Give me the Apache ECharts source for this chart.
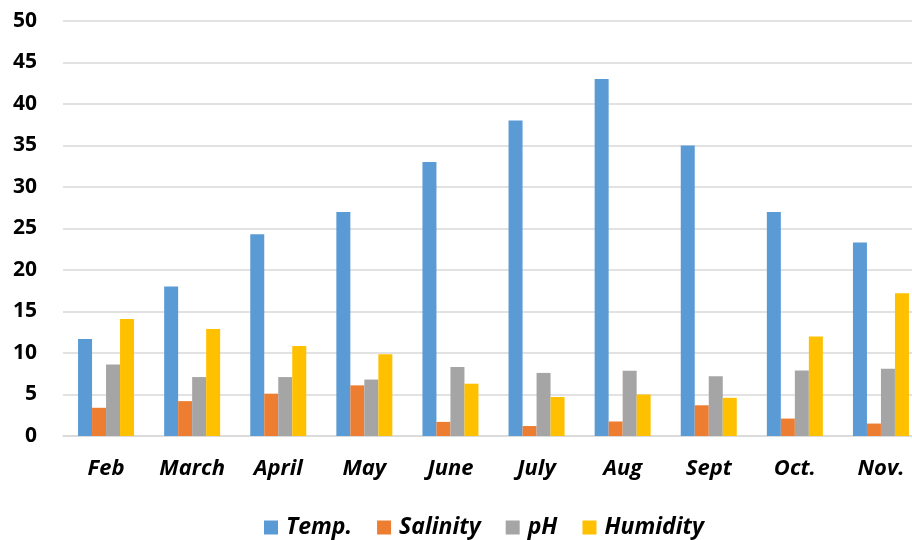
<!DOCTYPE html>
<html>
<head>
<meta charset="utf-8">
<script src="https://cdn.jsdelivr.net/npm/echarts@6/dist/echarts.min.js"></script>
<style>html,body{margin:0;padding:0;background:#fff}#c{width:912px;height:540px}</style>
</head>
<body>
<div id="c"></div>
<script>
var categories = ['Feb', 'March', 'April', 'May', 'June', 'July', 'Aug', 'Sept', 'Oct.', 'Nov.'];
var temp = [11.7, 18.0, 24.3, 27.0, 33.0, 38.0, 43.0, 35.0, 27.0, 23.3];
var salinity = [3.4, 4.2, 5.1, 6.1, 1.7, 1.2, 1.75, 3.7, 2.1, 1.5];
var ph = [8.6, 7.1, 7.1, 6.8, 8.3, 7.6, 7.85, 7.2, 7.9, 8.1];
var humidity = [14.1, 12.9, 10.85, 9.85, 6.3, 4.7, 5.0, 4.6, 12.0, 17.2];
var seriesNames = ['Temp.', 'Salinity', 'pH', 'Humidity'];
var colors = ['#5B9BD5', '#ED7D31', '#A5A5A5', '#FFC000'];

var fontFam = '"Open Sans", Lato, sans-serif';
var chart = echarts.init(document.getElementById('c'), null, {renderer: 'canvas'});
var dataSets = [temp, salinity, ph, humidity];
chart.setOption({
  animation: false,
  color: colors,
  grid: {left: 63, width: 861, top: 21, height: 415, containLabel: false, outerBoundsMode: 'none'},
  legend: {
    top: 511,
    left: 259,
    icon: 'rect',
    itemWidth: 14,
    itemHeight: 14,
    itemGap: 25,
    textStyle: {fontFamily: fontFam, fontSize: 23, fontWeight: 'bold', fontStyle: 'italic', color: '#000', padding: [0, 0, 0, 3]},
    data: seriesNames
  },
  xAxis: {
    type: 'category',
    data: categories,
    axisLine: {show: true, lineStyle: {color: '#d9d9d9', width: 1.5}},
    axisTick: {show: false},
    axisLabel: {margin: 22, fontFamily: fontFam, fontSize: 22, fontWeight: 'bold', fontStyle: 'italic', color: '#000'}
  },
  yAxis: {
    type: 'value',
    min: 0, max: 50, interval: 5,
    axisLine: {show: false},
    axisTick: {show: false},
    splitLine: {lineStyle: {color: '#d9d9d9', width: 1.5}},
    axisLabel: {margin: 26, fontFamily: fontFam, fontSize: 21, fontWeight: 'bold', color: '#000'}
  },
  series: seriesNames.map(function (n, i) {
    return {name: n, type: 'bar', data: dataSets[i], barWidth: 14, barGap: '0%'};
  })
});
</script>
</body>
</html>
